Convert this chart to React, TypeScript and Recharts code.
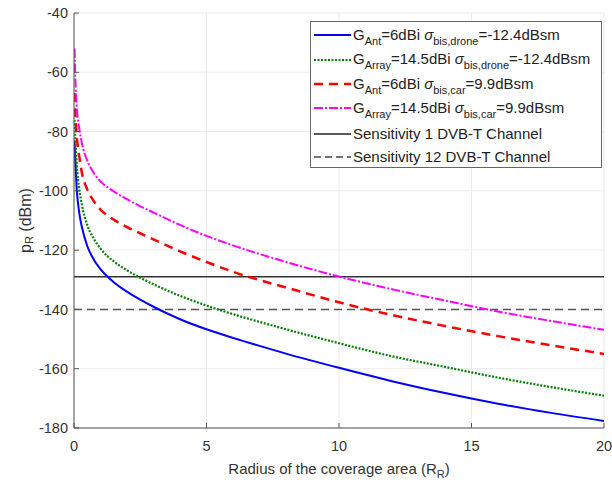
import React from "react";
import {
  CartesianGrid,
  Legend,
  Line,
  LineChart,
  ReferenceLine,
  XAxis,
  YAxis,
} from "recharts";

// radius of the coverage area (R_R)
const radius = [
  0.02, 0.05, 0.1, 0.2, 0.3, 0.5, 0.75, 1, 1.5, 2, 2.5, 3, 4, 5, 6, 7, 8, 10,
  12, 14, 16, 18, 20,
];

// received power p_R in dBm
const antDrone = [
  -83, -90, -99, -107.5, -112.3, -118.6, -123.2, -126.4, -130.8, -134, -136.7,
  -139.1, -143.3, -146.7, -149.6, -152.3, -154.9, -159.7, -164.2, -168.2,
  -171.8, -174.9, -177.6,
];
const arrayDrone = [
  -76, -82, -90.5, -99.5, -104.8, -111.5, -116.2, -119.5, -123.8, -126.8,
  -129.3, -131.5, -135.4, -138.7, -141.6, -144.2, -146.7, -151.4, -155.8,
  -159.4, -163, -166.2, -169.1,
];
const antCar = [
  -67, -74, -81, -88.5, -94, -99.5, -103.5, -106.3, -109.7, -112.2, -114.3,
  -116.4, -120.4, -124, -127.3, -130.1, -132.6, -137.6, -141.9, -145.6, -149,
  -152.1, -155,
];
const arrayCar = [
  -52, -62, -71, -79, -84, -89.8, -94, -96.8, -100.2, -102.8, -105.2, -107.3,
  -111.5, -115.2, -118.4, -121.3, -124, -128.9, -133.2, -137, -140.7, -143.9,
  -146.9,
];

const sensitivity1 = -129;
const sensitivity12 = -140;

const xTicks = [0, 5, 10, 15, 20];
const yTicks = [-180, -160, -140, -120, -100, -80, -60, -40];

const data = radius.map((r, i) => ({
  r,
  antDrone: antDrone[i],
  arrayDrone: arrayDrone[i],
  antCar: antCar[i],
  arrayCar: arrayCar[i],
}));

const FONT = "'Liberation Sans', Arial, Helvetica, sans-serif";
const AXIS = "#555";
const TEXT = "#333";

const Sub = ({ children }: { children: React.ReactNode }) => (
  <span style={{ fontSize: 11, position: "relative", top: 5 }}>{children}</span>
);
const Sigma = () => <span style={{ fontStyle: "italic" }}>σ</span>;

const legendItems = [
  {
    stroke: "#0000ff",
    dash: undefined,
    width: 2,
    h: 24,
    label: (
      <>
        G<Sub>Ant</Sub>=6dBi <Sigma />
        <Sub>bis,drone</Sub>=-12.4dBsm
      </>
    ),
  },
  {
    stroke: "#008000",
    dash: "2 1.5",
    width: 2.2,
    h: 25,
    label: (
      <>
        G<Sub>Array</Sub>=14.5dBi <Sigma />
        <Sub>bis,drone</Sub>=-12.4dBsm
      </>
    ),
  },
  {
    stroke: "#ff0000",
    dash: "9 6",
    width: 2.5,
    h: 24,
    label: (
      <>
        G<Sub>Ant</Sub>=6dBi <Sigma />
        <Sub>bis,car</Sub>=9.9dBsm
      </>
    ),
  },
  {
    stroke: "#ff00ff",
    dash: "9 2 2 2",
    width: 2,
    h: 24,
    label: (
      <>
        G<Sub>Array</Sub>=14.5dBi <Sigma />
        <Sub>bis,car</Sub>=9.9dBsm
      </>
    ),
  },
  { stroke: "#222", dash: undefined, width: 1.3, h: 27, label: <>Sensitivity 1 DVB-T Channel</> },
  { stroke: "#444", dash: "7 4", width: 1.3, h: 19, label: <>Sensitivity 12 DVB-T Channel</> },
];

function LegendBox() {
  return (
    <div
      style={{
        border: "1px solid #666",
        background: "#fff",
        paddingTop: 1,
        paddingBottom: 1,
        fontFamily: FONT,
        fontSize: 15,
        color: "#222",
        boxSizing: "border-box",
      }}
    >
      {legendItems.map((it, i) => (
        <div
          key={i}
          style={{ display: "flex", alignItems: "center", height: it.h, whiteSpace: "nowrap" }}
        >
          <svg width={42} height={10} style={{ flex: "none" }}>
            <line
              x1={3}
              x2={40}
              y1={5}
              y2={5}
              stroke={it.stroke}
              strokeWidth={it.width}
              strokeDasharray={it.dash}
            />
          </svg>
          <span style={{ lineHeight: "15px" }}>{it.label}</span>
        </div>
      ))}
    </div>
  );
}

export default function App() {
  return (
    <div
      style={{
        position: "absolute",
        left: 0,
        top: 0,
        width: 612,
        height: 486,
        background: "#fff",
      }}
    >
      <LineChart
        width={612}
        height={486}
        data={data}
        margin={{ top: 13, right: 8, bottom: 0, left: 0 }}
      >
        <CartesianGrid stroke="#ebebeb" strokeWidth={1} />
        <XAxis
          dataKey="r"
          type="number"
          domain={[0, 20]}
          ticks={xTicks}
          allowDataOverflow
          height={58}
          stroke={AXIS}
          tickSize={-5}
          tickMargin={18}
          tick={{ fill: TEXT, fontSize: 14.5, fontFamily: FONT }}
          label={{
            content: ({ viewBox }: any) => (
              <text
                x={viewBox.x + viewBox.width / 2}
                y={viewBox.y + 46}
                textAnchor="middle"
                fill={TEXT}
                fontSize={15}
                fontFamily={FONT}
              >
                Radius of the coverage area (R
                <tspan dy={4} fontSize={11}>R</tspan>
                <tspan dy={-4}>)</tspan>
              </text>
            ),
          }}
        />
        <XAxis
          xAxisId="top"
          orientation="top"
          type="number"
          domain={[0, 20]}
          ticks={xTicks}
          height={0}
          stroke={AXIS}
          tickSize={-5}
          tick={false}
        />
        <YAxis
          type="number"
          domain={[-180, -40]}
          ticks={yTicks}
          allowDataOverflow
          width={74}
          stroke={AXIS}
          tickSize={-5}
          tickMargin={11}
          tick={{ fill: TEXT, fontSize: 14.5, fontFamily: FONT }}
          label={{
            content: ({ viewBox }: any) => {
              const cx = 25;
              const cy = viewBox.y + viewBox.height / 2;
              return (
                <text
                  x={cx}
                  y={cy}
                  transform={`rotate(-90 ${cx} ${cy})`}
                  textAnchor="middle"
                  dominantBaseline="central"
                  fill={TEXT}
                  fontSize={16}
                  fontFamily={FONT}
                >
                  p
                  <tspan dy={4} fontSize={11}>R</tspan>
                  <tspan dy={-4}> (dBm)</tspan>
                </text>
              );
            },
          }}
        />
        <YAxis
          yAxisId="right"
          orientation="right"
          type="number"
          domain={[-180, -40]}
          ticks={yTicks}
          width={0}
          stroke={AXIS}
          tickSize={-5}
          tick={false}
        />
        <ReferenceLine y={sensitivity1} stroke="#333" strokeWidth={1.5} ifOverflow="hidden" />
        <ReferenceLine
          y={sensitivity12}
          stroke="#555"
          strokeWidth={1.5}
          strokeDasharray="8 5"
          ifOverflow="hidden"
        />
        <Line
          dataKey="antDrone"
          type="monotone"
          stroke="#0000ff"
          strokeWidth={2}
          dot={false}
          isAnimationActive={false}
        />
        <Line
          dataKey="arrayDrone"
          type="monotone"
          stroke="#008000"
          strokeWidth={2.2}
          strokeDasharray="2 1.5"
          dot={false}
          isAnimationActive={false}
        />
        <Line
          dataKey="antCar"
          type="monotone"
          stroke="#ff0000"
          strokeWidth={2.5}
          strokeDasharray="9 6"
          dot={false}
          isAnimationActive={false}
        />
        <Line
          dataKey="arrayCar"
          type="monotone"
          stroke="#ff00ff"
          strokeWidth={2}
          strokeDasharray="9 2 2 2"
          dot={false}
          isAnimationActive={false}
        />
        <Legend
          layout="vertical"
          align="center"
          verticalAlign="middle"
          content={() => <LegendBox />}
          wrapperStyle={{ position: "absolute", left: 310, top: 21, width: 292 }}
        />
      </LineChart>
    </div>
  );
}
